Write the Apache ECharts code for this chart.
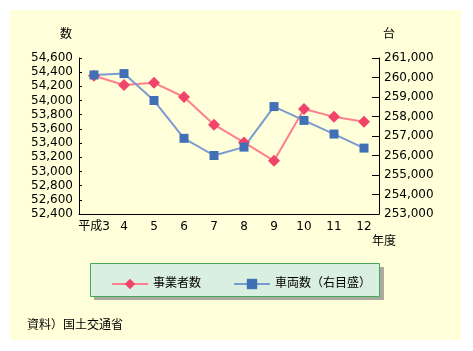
<!DOCTYPE html>
<html>
<head>
<meta charset="utf-8">
<script src="https://cdn.jsdelivr.net/npm/echarts@6/dist/echarts.min.js"></script>
<style>
html, body { margin: 0; padding: 0; background: #fff; }
#chart { width: 473px; height: 351px; }
</style>
</head>
<body>
<div id="chart"></div>
<script>
// 年度
var years = ['平成3', '4', '5', '6', '7', '8', '9', '10', '11', '12'];
// 事業者数（左目盛）
var jigyosha = [54350, 54220, 54250, 54050, 53660, 53410, 53150, 53880, 53770, 53700];
// 車両数（右目盛）
var sharyo = [260130, 260200, 258820, 256880, 256000, 256430, 258510, 257800, 257100, 256380];

var font = 'DejaVu Sans, "Noto Sans CJK JP", sans-serif';

var chart = echarts.init(document.getElementById('chart'));

var option = {
    animation: false,
    textStyle: { fontFamily: font, color: '#000' },
    graphic: [
        { type: 'rect', shape: { x: 10, y: 10, width: 451, height: 330 }, style: { fill: '#ffffd9' }, z: -10 },
        // 凡例の影と枠
        { type: 'rect', shape: { x: 94, y: 267, width: 290, height: 33 }, style: { fill: '#aaaaa0' }, z: -5 },
        { type: 'rect', shape: { x: 90.5, y: 263.5, width: 289, height: 33 }, style: { fill: '#d9efdf', stroke: '#44aa55', lineWidth: 1 }, z: -4 },
        { type: 'text', left: 60, top: 29, style: { text: '数', font: '12px ' + font, fill: '#000' } },
        { type: 'text', left: 383, top: 29, style: { text: '台', font: '12px ' + font, fill: '#000' } },
        { type: 'text', left: 372, top: 236, style: { text: '年度', font: '12px ' + font, fill: '#000' } },
        { type: 'text', left: 27, top: 320, style: { text: '資料）国土交通省', font: '12px ' + font, fill: '#000' } }
    ],
    legend: {
        left: 106,
        top: 273,
        itemWidth: 36,
        itemHeight: 13,
        itemGap: 32,
        textStyle: { fontSize: 12, fontFamily: font, color: '#000' },
        data: ['事業者数', '車両数（右目盛）']
    },
    grid: { left: 79, right: 94, top: 58, height: 156 },
    xAxis: {
        type: 'category',
        data: years,
        axisLine: { lineStyle: { color: '#000', width: 1 } },
        axisTick: { inside: true, length: 4, lineStyle: { color: '#000' } },
        axisLabel: { interval: 0, color: '#000', fontSize: 12, margin: 7, fontFamily: font }
    },
    yAxis: [
        {
            type: 'value',
            min: 52400,
            max: 54600,
            interval: 200,
            splitLine: { show: false },
            axisLine: { show: true, lineStyle: { color: '#000' } },
            axisTick: { show: true, inside: true, length: 3, lineStyle: { color: '#000' } },
            axisLabel: {
                color: '#000', fontSize: 12, margin: 6, fontFamily: font,
                formatter: function (v) { return v.toLocaleString('en-US'); }
            }
        },
        {
            type: 'value',
            min: 253000,
            max: 261000,
            interval: 1000,
            splitLine: { show: false },
            axisLine: { show: true, lineStyle: { color: '#000' } },
            axisTick: { show: true, inside: true, length: 7, lineStyle: { color: '#000' } },
            axisLabel: {
                color: '#000', fontSize: 12, margin: 5, fontFamily: font,
                formatter: function (v) { return v.toLocaleString('en-US'); }
            }
        }
    ],
    series: [
        {
            name: '事業者数',
            type: 'line',
            yAxisIndex: 0,
            data: jigyosha,
            symbol: 'diamond',
            symbolSize: 12,
            lineStyle: { color: '#ff7f8f', width: 2 },
            itemStyle: { color: '#f2436a' }
        },
        {
            name: '車両数（右目盛）',
            type: 'line',
            yAxisIndex: 1,
            data: sharyo,
            symbol: 'rect',
            symbolSize: 9,
            lineStyle: { color: '#7b9bd0', width: 2 },
            itemStyle: { color: '#4170b6' }
        }
    ]
};

chart.setOption(option);
</script>
</body>
</html>
